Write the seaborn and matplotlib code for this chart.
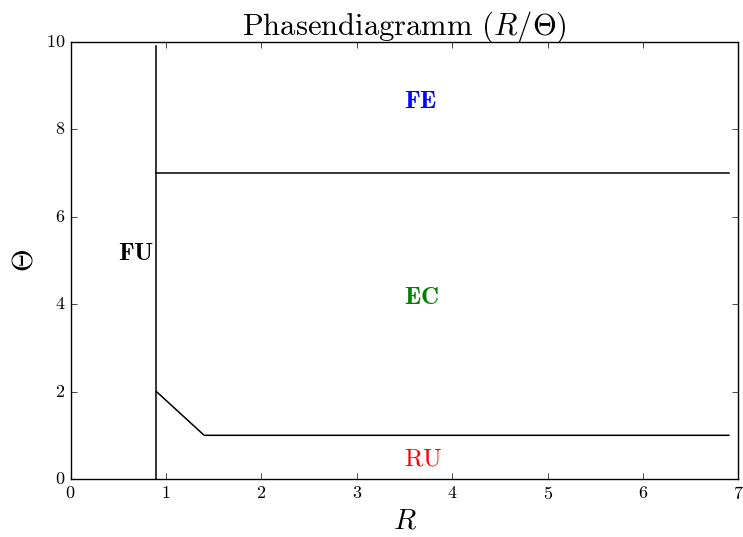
import matplotlib
matplotlib.use("Agg")
import matplotlib.pyplot as plt
import seaborn as sns
import pandas as pd

# Phase boundaries in the (R, Theta) plane
fu_R = [0.9, 0.9]
fu_T = [0.0, 9.9]
fe_R = [0.9, 6.9]
fe_T = [7.0, 7.0]
ru_R = [0.9, 1.4, 6.9]
ru_T = [2.0, 1.0, 1.0]

# Region labels: text, R, Theta, colour, bold
labels = ["FE", "EC", "RU", "FU"]
label_R = [3.5, 3.5, 3.5, 0.5]
label_T = [8.5, 4.0, 0.3, 5.0]
label_colors = ["blue", "green", "red", "black"]
label_bold = [True, True, False, True]

x_ticks = [0, 1, 2, 3, 4, 5, 6, 7]
y_ticks = [0, 2, 4, 6, 8, 10]

plt.style.use("classic")
plt.rcParams.update({
    "figure.facecolor": "white",
    "savefig.facecolor": "white",
    "font.family": "serif",
    "font.serif": ["cmr10"],
    "mathtext.fontset": "cm",
    "axes.formatter.use_mathtext": True,
    "axes.unicode_minus": False,
})

fig = plt.figure(figsize=(7.43, 5.37), dpi=100)
ax = fig.add_axes([70.6 / 743, 1 - 479 / 537, 667.8 / 743, 437 / 537])

for R, T in [(fu_R, fu_T), (fe_R, fe_T), (ru_R, ru_T)]:
    df = pd.DataFrame({"R": R, "T": T})
    sns.lineplot(data=df, x="R", y="T", sort=False, estimator=None,
                 color="black", linewidth=1.1, ax=ax)

for txt, r, t, c, b in zip(labels, label_R, label_T, label_colors, label_bold):
    s = r"$\mathbf{%s}$" % txt if b else r"$\mathrm{%s}$" % txt
    ax.text(r, t, s, color=c, fontsize=18)

ax.set_xlim(0, 7)
ax.set_ylim(0, 10)
ax.set_xticks(x_ticks)
ax.set_yticks(y_ticks)
ax.tick_params(labelsize=13)
ax.set_xlabel(r"$R$", fontsize=21)
ax.set_ylabel(r"$\Theta$", fontsize=21)
ax.set_title(r"Phasendiagramm $(R/\Theta)$", fontsize=22)

fig.savefig("out.png", dpi=100)
